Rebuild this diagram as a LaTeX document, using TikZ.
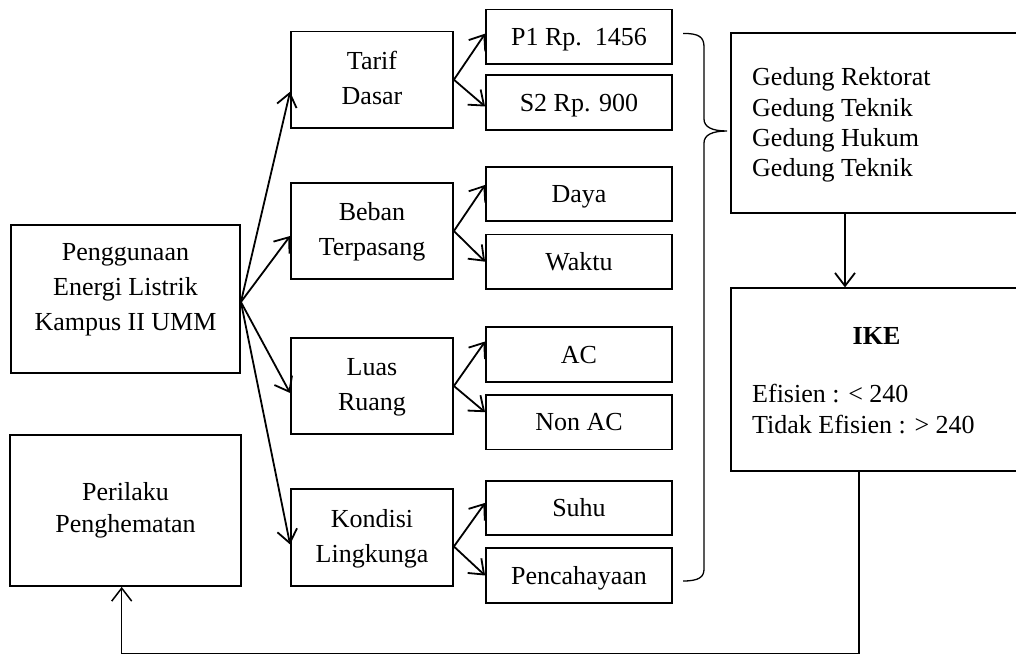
\documentclass[tikz,border=0pt]{standalone}
\usepackage{fontspec}
\setmainfont{Liberation Serif}
\usetikzlibrary{arrows.meta}
\tikzset{
  box/.style={draw, line width=1.8pt, inner sep=0pt, rectangle},
  txt/.style={inner sep=0pt, font=\fontsize{26}{35}\selectfont},
  mid/.style={box, minimum width=162pt, minimum height=96.5pt, align=center, font=\fontsize{26}{35}\selectfont},
  small/.style={box, minimum width=186pt, minimum height=54.5pt, text height=18pt, text depth=1pt, font=\fontsize{26}{30}\selectfont},
  arr/.style={line width=1.8pt, -{Straight Barb[length=13pt,width=20pt]}},
}
\begin{document}
\begin{tikzpicture}[x=1pt,y=-1pt]
\useasboundingbox (0,0) rectangle (1016,653);
% left boxes
\node[box, minimum width=229pt, minimum height=148pt] (pg) at (125.5,299) {};
\node[txt, align=center] (pgt) at ([yshift=11pt]pg.center) {\strut Penggunaan\\\strut Energi Listrik\\\strut Kampus II UMM};
\node[box, minimum width=231pt, minimum height=151pt, align=center, font=\fontsize{26}{32}\selectfont] (pl) at (125.5,510.5) {\strut Perilaku\\\strut Penghematan};
% middle boxes
\node[mid] (tarif) at (372,79.7) {\strut Tarif\\\strut Dasar};
\node[mid] (beban) at (372,231) {\strut Beban\\\strut Terpasang};
\node[mid] (luas) at (372,386) {\strut Luas\\\strut Ruang};
\node[mid] (kondisi) at (372,537.5) {\strut Kondisi\\\strut Lingkunga};
% small boxes
\node[small] (p1) at (579,36.7) {P1 Rp.\ \ 1456};
\node[small] (s2) at (579,102.5) {S2 Rp. 900};
\node[small] (daya) at (579,193.9) {Daya};
\node[small] (waktu) at (579,261.7) {Waktu};
\node[small] (ac) at (579,354.5) {AC};
\node[small] (nonac) at (579,422.2) {Non AC};
\node[small] (suhu) at (579,507.9) {Suhu};
\node[small] (cahaya) at (579,575.5) {Pencahayaan};
% right boxes
\node[box, minimum width=291pt, minimum height=180pt] (gd) at (876.5,123) {};
\node[txt, align=left, anchor=north west, font=\fontsize{26}{30.3}\selectfont] (gdt) at (752,64.5) {\strut Gedung Rektorat\\\strut Gedung Teknik\\\strut Gedung Hukum\\\strut Gedung Teknik};
\node[box, minimum width=291pt, minimum height=182.4pt] (ike) at (876.5,379.5) {};
\node[txt, anchor=base, font=\fontsize{26}{31}\selectfont\bfseries] (iket) at (876.5,344) {IKE};
\node[txt, align=left, anchor=north west, font=\fontsize{26}{31}\selectfont] (eft) at (752,380.6) {\strut Efisien : < 240\\\strut Tidak Efisien : > 240};
% connectors from main box
\draw[arr] ([yshift=-3pt]pg.east) -- ([yshift=-12pt]tarif.west);
\draw[arr] ([yshift=-3pt]pg.east) -- ([yshift=-5pt]beban.west);
\draw[arr] ([yshift=-3pt]pg.east) -- ([yshift=-7pt]luas.west);
\draw[arr] ([yshift=-3pt]pg.east) -- ([yshift=-7pt]kondisi.west);
% forks
\draw[arr] (tarif.east) -- ([yshift=3pt]p1.west);
\draw[arr] (tarif.east) -- ([yshift=-4pt]s2.west);
\draw[arr] (beban.east) -- ([yshift=9pt]daya.west);
\draw[arr] (beban.east) -- (waktu.west);
\draw[arr] (luas.east) -- ([yshift=13pt]ac.west);
\draw[arr] (luas.east) -- ([yshift=10pt]nonac.west);
\draw[arr] ([yshift=-9pt]kondisi.east) -- ([yshift=5pt]suhu.west);
\draw[arr] ([yshift=-9pt]kondisi.east) -- (cahaya.west);
% brace
\draw[line width=1.3pt] (683,33.4) .. controls (699,33.4) and (704,37) .. (704,47) -- (704,119)
  .. controls (704,127) and (712,131) .. (727,131)
  .. controls (712,131) and (704,135) .. (704,143) -- (704,569)
  .. controls (704,577) and (699,581) .. (683,581);
% right connectors
\draw[arr] ([xshift=-31.5pt]gd.south) -- ([xshift=-31.5pt]ike.north);
\coordinate (br) at (859,654);
\coordinate (bl) at (121.7,654);
\draw[arr, line width=1.5pt] ([xshift=-17.5pt]ike.south) -- (br) -- (bl) -- ([xshift=-3.8pt]pl.south);
\end{tikzpicture}
\end{document}
